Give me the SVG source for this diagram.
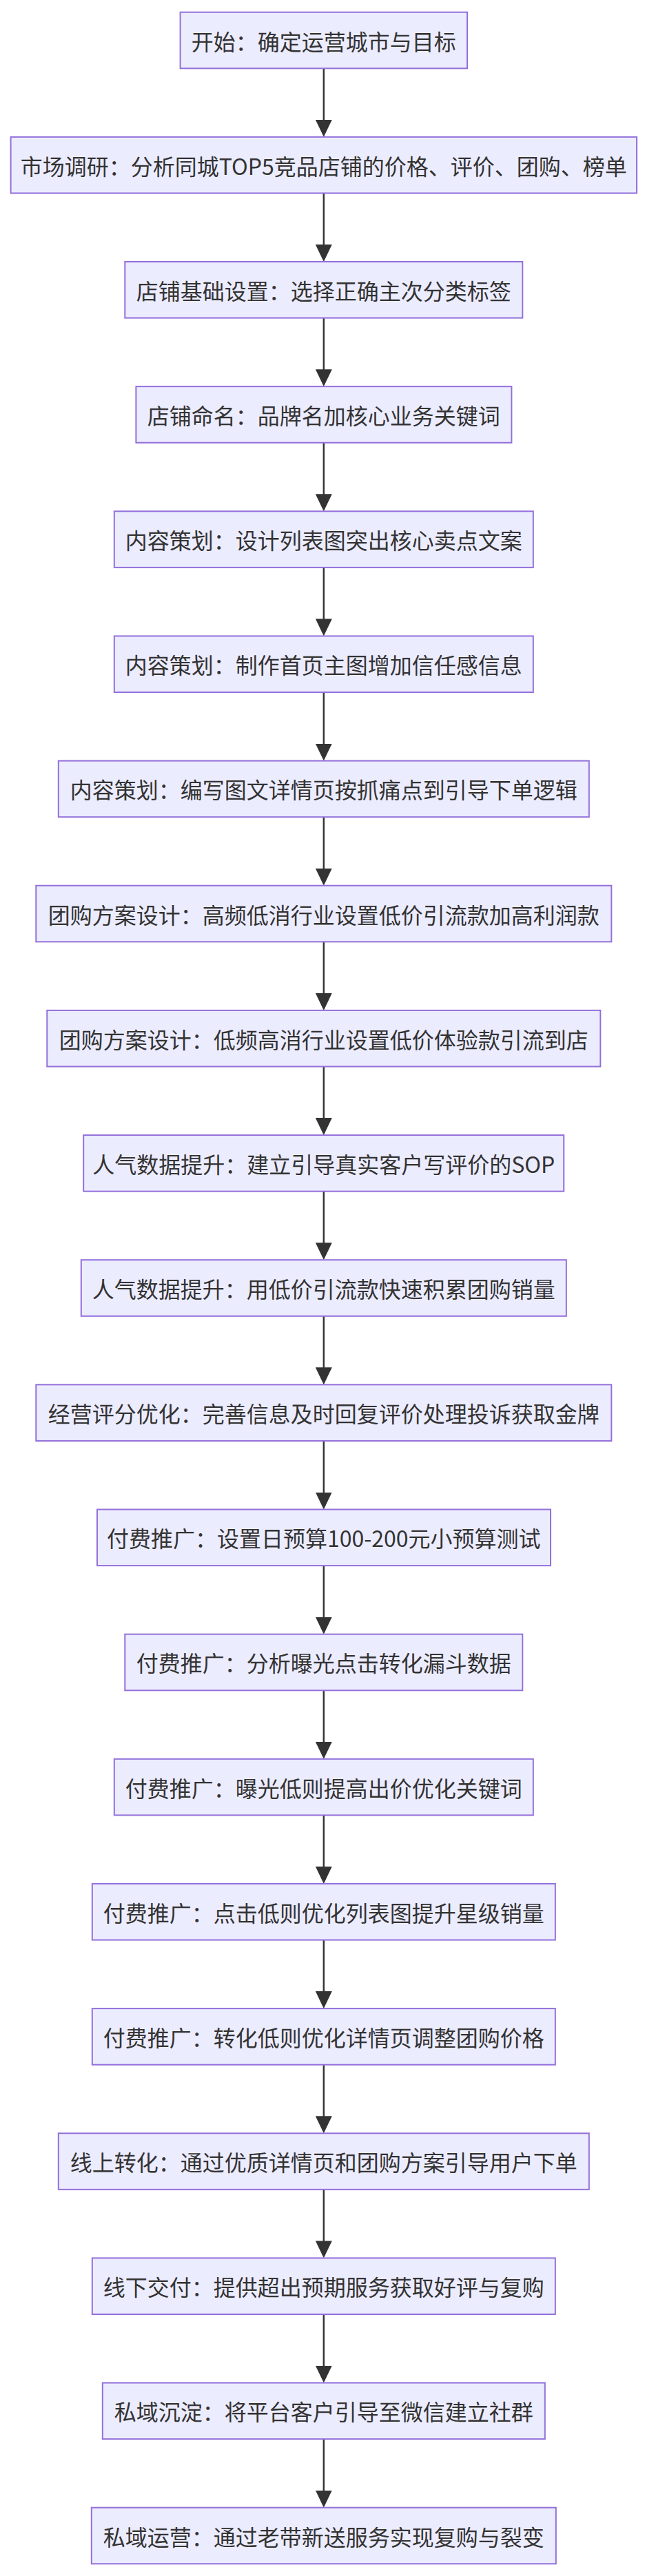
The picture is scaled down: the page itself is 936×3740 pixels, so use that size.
<svg xmlns="http://www.w3.org/2000/svg" width="936" height="3740" viewBox="0 0 936 3740">
<style>
.node rect{fill:#ECECFF;stroke:#9370DB;stroke-width:2}
.node text{font-family:"Noto Sans CJK SC","Noto Sans",sans-serif;font-size:32px;fill:#333333;text-anchor:middle;dominant-baseline:central}
.edges line{stroke:#333333;stroke-width:2.4}
</style>
<defs>
<marker id="arr" markerUnits="userSpaceOnUse" viewBox="0 0 25 24" refX="20" refY="12" markerWidth="25" markerHeight="24" orient="auto">
<path d="M0,0 L25,12 L0,24 z" fill="#333333"/>
</marker>
</defs>
<g class="edges">
<line x1="469.8" y1="99.3" x2="469.8" y2="193.85" marker-end="url(#arr)"/>
<line x1="469.8" y1="280.45" x2="469.8" y2="375" marker-end="url(#arr)"/>
<line x1="469.8" y1="461.6" x2="469.8" y2="556.15" marker-end="url(#arr)"/>
<line x1="469.8" y1="642.75" x2="469.8" y2="737.3" marker-end="url(#arr)"/>
<line x1="469.8" y1="823.9" x2="469.8" y2="918.45" marker-end="url(#arr)"/>
<line x1="469.8" y1="1005.05" x2="469.8" y2="1099.6" marker-end="url(#arr)"/>
<line x1="469.8" y1="1186.2" x2="469.8" y2="1280.75" marker-end="url(#arr)"/>
<line x1="469.8" y1="1367.35" x2="469.8" y2="1461.9" marker-end="url(#arr)"/>
<line x1="469.8" y1="1548.5" x2="469.8" y2="1643.05" marker-end="url(#arr)"/>
<line x1="469.8" y1="1729.65" x2="469.8" y2="1824.2" marker-end="url(#arr)"/>
<line x1="469.8" y1="1910.8" x2="469.8" y2="2005.35" marker-end="url(#arr)"/>
<line x1="469.8" y1="2091.95" x2="469.8" y2="2186.5" marker-end="url(#arr)"/>
<line x1="469.8" y1="2273.1" x2="469.8" y2="2367.65" marker-end="url(#arr)"/>
<line x1="469.8" y1="2454.25" x2="469.8" y2="2548.8" marker-end="url(#arr)"/>
<line x1="469.8" y1="2635.4" x2="469.8" y2="2729.95" marker-end="url(#arr)"/>
<line x1="469.8" y1="2816.55" x2="469.8" y2="2911.1" marker-end="url(#arr)"/>
<line x1="469.8" y1="2997.7" x2="469.8" y2="3092.25" marker-end="url(#arr)"/>
<line x1="469.8" y1="3178.85" x2="469.8" y2="3273.4" marker-end="url(#arr)"/>
<line x1="469.8" y1="3360" x2="469.8" y2="3454.55" marker-end="url(#arr)"/>
<line x1="469.8" y1="3541.15" x2="469.8" y2="3635.7" marker-end="url(#arr)"/>
</g>
<g id="n0" class="node"><rect x="261.6" y="17.7" width="416.4" height="81.6"/><text x="469.8" y="58.5">开始：确定运营城市与目标</text></g>
<g id="n1" class="node"><rect x="15.6" y="198.85" width="908.4" height="81.6"/><text x="469.8" y="239.65">市场调研：分析同城TOP5竞品店铺的价格、评价、团购、榜单</text></g>
<g id="n2" class="node"><rect x="181.3" y="380" width="577" height="81.6"/><text x="469.8" y="420.8">店铺基础设置：选择正确主次分类标签</text></g>
<g id="n3" class="node"><rect x="197.4" y="561.15" width="545" height="81.6"/><text x="469.8" y="601.95">店铺命名：品牌名加核心业务关键词</text></g>
<g id="n4" class="node"><rect x="165.8" y="742.3" width="608" height="81.6"/><text x="469.8" y="783.1">内容策划：设计列表图突出核心卖点文案</text></g>
<g id="n5" class="node"><rect x="165.8" y="923.45" width="608" height="81.6"/><text x="469.8" y="964.25">内容策划：制作首页主图增加信任感信息</text></g>
<g id="n6" class="node"><rect x="84.8" y="1104.6" width="770" height="81.6"/><text x="469.8" y="1145.4">内容策划：编写图文详情页按抓痛点到引导下单逻辑</text></g>
<g id="n7" class="node"><rect x="52.3" y="1285.75" width="835" height="81.6"/><text x="469.8" y="1326.55">团购方案设计：高频低消行业设置低价引流款加高利润款</text></g>
<g id="n8" class="node"><rect x="68.3" y="1466.9" width="803" height="81.6"/><text x="469.8" y="1507.7">团购方案设计：低频高消行业设置低价体验款引流到店</text></g>
<g id="n9" class="node"><rect x="121.2" y="1648.05" width="697" height="81.6"/><text x="469.8" y="1688.85">人气数据提升：建立引导真实客户写评价的SOP</text></g>
<g id="n10" class="node"><rect x="117.8" y="1829.2" width="704" height="81.6"/><text x="469.8" y="1870">人气数据提升：用低价引流款快速积累团购销量</text></g>
<g id="n11" class="node"><rect x="52.3" y="2010.35" width="835" height="81.6"/><text x="469.8" y="2051.15">经营评分优化：完善信息及时回复评价处理投诉获取金牌</text></g>
<g id="n12" class="node"><rect x="141" y="2191.5" width="658" height="81.6"/><text x="469.8" y="2232.3">付费推广：设置日预算100-200元小预算测试</text></g>
<g id="n13" class="node"><rect x="181.3" y="2372.65" width="577" height="81.6"/><text x="469.8" y="2413.45">付费推广：分析曝光点击转化漏斗数据</text></g>
<g id="n14" class="node"><rect x="165.8" y="2553.8" width="608" height="81.6"/><text x="469.8" y="2594.6">付费推广：曝光低则提高出价优化关键词</text></g>
<g id="n15" class="node"><rect x="133.8" y="2734.95" width="672" height="81.6"/><text x="469.8" y="2775.75">付费推广：点击低则优化列表图提升星级销量</text></g>
<g id="n16" class="node"><rect x="133.8" y="2916.1" width="672" height="81.6"/><text x="469.8" y="2956.9">付费推广：转化低则优化详情页调整团购价格</text></g>
<g id="n17" class="node"><rect x="84.8" y="3097.25" width="770" height="81.6"/><text x="469.8" y="3138.05">线上转化：通过优质详情页和团购方案引导用户下单</text></g>
<g id="n18" class="node"><rect x="133.8" y="3278.4" width="672" height="81.6"/><text x="469.8" y="3319.2">线下交付：提供超出预期服务获取好评与复购</text></g>
<g id="n19" class="node"><rect x="148.8" y="3459.55" width="642" height="81.6"/><text x="469.8" y="3500.35">私域沉淀：将平台客户引导至微信建立社群</text></g>
<g id="n20" class="node"><rect x="132.8" y="3640.7" width="674" height="81.6"/><text x="469.8" y="3681.5">私域运营：通过老带新送服务实现复购与裂变</text></g>
</svg>
